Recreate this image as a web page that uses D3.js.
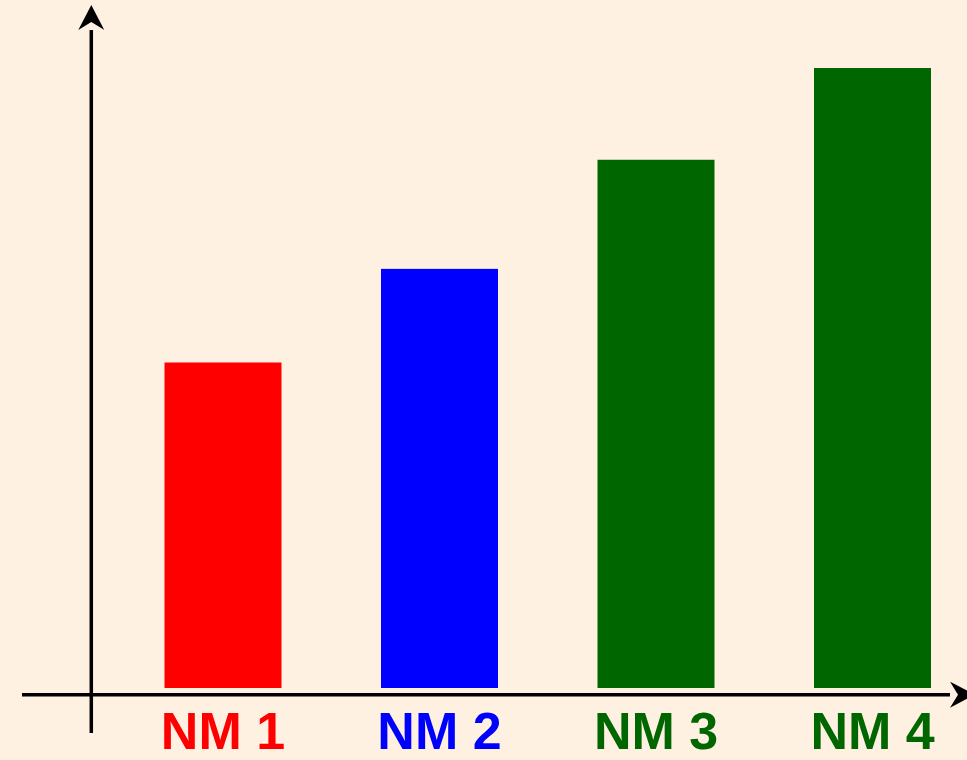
<!DOCTYPE html>
<html>
<head>
<meta charset="utf-8">
<script src="https://cdn.jsdelivr.net/npm/d3@7"></script>
<style>
  html, body { margin: 0; padding: 0; background: #fff1e2; }
  svg { display: block; }
</style>
</head>
<body>
<svg id="chart" width="967" height="760"></svg>
<script>
const categories = ["NM 1", "NM 2", "NM 3", "NM 4"];
const values = [52.5, 67.6, 85.2, 100];
const colors = ["#ff0000", "#0000ff", "#006600", "#006600"];

const svg = d3.select("#chart");
const W = 967, H = 760;
svg.append("rect").attr("width", W).attr("height", H).attr("fill", "#fff1e2");

const x = d3.scaleBand().domain(categories).range([164.5, 931]).paddingInner(0.4596).paddingOuter(0);
const y = d3.scaleLinear().domain([0, 100]).range([688, 68]);

// bars
svg.selectAll("rect.bar").data(categories).enter().append("rect")
  .attr("class", "bar")
  .attr("x", d => x(d))
  .attr("width", x.bandwidth())
  .attr("y", (d, i) => y(values[i]))
  .attr("height", (d, i) => y(0) - y(values[i]))
  .attr("fill", (d, i) => colors[i]);

// arrow marker
const defs = svg.append("defs");
defs.append("marker")
  .attr("id", "arr")
  .attr("viewBox", "0 -13 25 26")
  .attr("refX", 0).attr("refY", 0)
  .attr("markerWidth", 25).attr("markerHeight", 26)
  .attr("markerUnits", "userSpaceOnUse")
  .attr("orient", "auto")
  .append("path")
  .attr("d", "M25,0 L0,-13 L8,0 L0,13 Z")
  .attr("fill", "#000");

// x axis line
svg.append("line")
  .attr("x1", 22).attr("x2", 950)
  .attr("y1", 694.7).attr("y2", 694.7)
  .attr("stroke", "#000").attr("stroke-width", 3.5)
  .attr("marker-end", "url(#arr)");

// y axis line
svg.append("line")
  .attr("x1", 91.3).attr("x2", 91.3)
  .attr("y1", 733).attr("y2", 30)
  .attr("stroke", "#000").attr("stroke-width", 3.5)
  .attr("marker-end", "url(#arr)");

// labels
svg.selectAll("text.lbl").data(categories).enter().append("text")
  .attr("class", "lbl")
  .attr("x", d => x(d) + x.bandwidth() / 2)
  .attr("y", 749)
  .attr("text-anchor", "middle")
  .attr("font-family", "'Liberation Sans', Arial, sans-serif")
  .attr("font-weight", "bold")
  .attr("font-size", 52)
  .attr("fill", (d, i) => colors[i])
  .text(d => d);
</script>
</body>
</html>
